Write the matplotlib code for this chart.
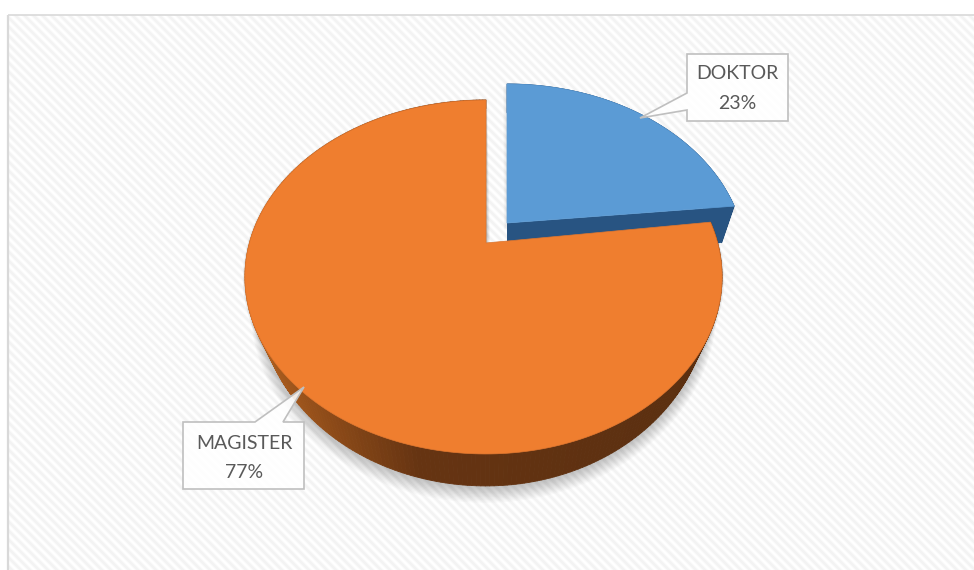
import matplotlib
matplotlib.use("Agg")
import matplotlib.pyplot as plt
from matplotlib.collections import PolyCollection
from matplotlib.colors import LinearSegmentedColormap
from matplotlib.patches import Polygon
import numpy as np

LABELS = ["DOKTOR", "MAGISTER"]
VALUES = [23, 77]
TOP_COLORS = ["#5b9bd5", "#ef7e2f"]

W, H = 974, 570
TEXT = "#595959"
BORDER = "#bfbfbf"

# tilted disc: pole and perspective of the top face, in pixels
CX, CY = 486, 243
FAR, NEAR = -123.8, 0.192
R_LEFT, R_RIGHT, R_SLICE = 236.6, 231.7, 234.5
# lower face of the extruded disc
SHRINK_X = 0.945
STRETCH_Y = 1.066
LIFT_Y = 2.0
EXPLODE = (21, -16)
SLICE_APEX_LIFT = -4
SLICE_EXTRA_DEPTH = 20

orange_side = LinearSegmentedColormap.from_list(
    "orange_side", [(0, "#b0601f"), (0.17, "#8c4a18"), (0.36, "#663412"), (1, "#5a2f10")])
blue_side = LinearSegmentedColormap.from_list(
    "blue_side", [(0, "#2a5a8c"), (1, "#26507c")])


def top_face(theta, r_right=R_RIGHT):
    # theta is clockwise from 12 o'clock
    u, v = np.sin(theta), np.cos(theta)
    d = 1 + NEAR * v
    r = np.where(u >= 0, r_right, R_LEFT)
    return CX + r * u / d, (CY + FAR * v) / d


def lower_face(x, y):
    return CX + SHRINK_X * (x - CX), STRETCH_Y * y + LIFT_Y


def outline(a, b, dx=0, dy=0, n=240, r_right=R_RIGHT):
    th = np.linspace(a, b, n)
    x, y = top_face(th, r_right)
    return x + dx, y + dy


def soft_shadow(ax, x, y, steps, spread, drop, alpha, z):
    mx, my = x.mean(), y.mean()
    for k in range(1, steps + 1):
        f = k / steps
        r = np.hypot(x - mx, y - my)
        gx = x + (x - mx) / r * spread * f
        gy = y + (y - my) / r * spread * f + drop * f
        ax.add_patch(Polygon(np.c_[gx, gy], closed=True, fc="black", ec="none",
                             alpha=alpha, zorder=z))


def draw_side(ax, a, b, cmap, dx, dy, z, r_right=R_RIGHT, extra=0, apex_lift=0):
    x, y = outline(a, b, n=300, r_right=r_right)
    lx, ly = lower_face(x, y)
    ly = ly + extra
    quads = [[(x[i] + dx, y[i] + dy), (x[i + 1] + dx, y[i + 1] + dy),
              (lx[i + 1] + dx, ly[i + 1] + dy), (lx[i] + dx, ly[i] + dy)]
             for i in range(len(x) - 1)]
    mids = np.clip((x[:-1] - 250) / 470, 0, 1)
    cols = cmap(mids)
    ax.add_collection(PolyCollection(quads, facecolors=cols, edgecolors=cols,
                                     linewidths=0.6, zorder=z))
    # back plate of the slice, down from the radial edge
    ax.add_patch(Polygon([(CX + dx, CY + dy + apex_lift), (x[-1] + dx, y[-1] + dy),
                          (lx[-1] + dx, ly[-1] + dy),
                          (CX + dx, STRETCH_Y * CY + LIFT_Y + dy + extra)],
                         closed=True, fc=cmap(0.6), ec="none", zorder=z))


def callout(ax, pts, lines, cx, cy):
    ax.add_patch(Polygon(pts, closed=True, fc=(1, 1, 1, 0.88), ec=BORDER, lw=1.2,
                         joinstyle="miter", zorder=8))
    ax.text(cx, cy, "\n".join(lines), ha="center", va="center", color=TEXT,
            fontsize=14, family=["Lato", "DejaVu Sans"], linespacing=1.92, zorder=9)


def main():
    fig = plt.figure(figsize=(W / 100, H / 100), dpi=100, facecolor="white")
    ax = fig.add_axes([0, 0, 1, 1])
    ax.axis("off")

    # diagonal stripes of the plot background
    gx, gy = np.meshgrid(np.arange(8, W) + 0.5, np.arange(15, H) + 0.5)
    stripes = 1 - 0.05 * (0.5 + 0.5 * np.cos(2 * np.pi * (gx - gy) / 9))
    ax.imshow(stripes, extent=(8, W, H, 15), cmap="gray", vmin=0, vmax=1,
              interpolation="bilinear", aspect="auto", zorder=0)
    ax.set_xlim(0, W)
    ax.set_ylim(H, 0)
    ax.plot([8, 8], [15, H], color="#d9d9d9", lw=1.6, solid_capstyle="butt", zorder=1)
    ax.plot([8, W], [15, 15], color="#d9d9d9", lw=1.2, solid_capstyle="butt", zorder=1)

    total = sum(VALUES)
    split = 2 * np.pi * VALUES[0] / total
    dx, dy = EXPLODE

    # shadows under the disc and the pulled-out slice
    ox, oy = outline(split, 2 * np.pi)
    ox = np.r_[CX, ox]
    oy = np.r_[CY, oy]
    lx, ly = lower_face(ox, oy)
    soft_shadow(ax, lx, ly, 12, 8, 9, 0.02, 2)
    soft_shadow(ax, ox, oy, 2, 2, 1, 0.05, 2)
    bx, by = outline(0, split, dx, dy, r_right=R_SLICE)
    bx = np.r_[CX + dx, bx]
    by = np.r_[CY + dy + SLICE_APEX_LIFT, by]
    soft_shadow(ax, bx, by, 4, 4, 4, 0.025, 2)

    draw_side(ax, 0, split, blue_side, dx, dy, 3, r_right=R_SLICE,
              extra=SLICE_EXTRA_DEPTH, apex_lift=SLICE_APEX_LIFT)
    ax.add_patch(Polygon(np.c_[bx, by], closed=True, fc=TOP_COLORS[0], ec=TOP_COLORS[0],
                         lw=0.5, zorder=4))

    draw_side(ax, split, 2 * np.pi, orange_side, 0, 0, 5)
    ax.add_patch(Polygon(np.c_[ox, oy], closed=True,
                         fc=TOP_COLORS[1], ec="#e0762e", lw=0.5, zorder=6))

    callout(ax, [(687, 54), (788, 54), (788, 121), (687, 121), (687, 110), (640, 118), (687, 93)],
            [LABELS[0], f"{VALUES[0] / total:.0%}"], 737.5, 88.5)
    callout(ax, [(183, 422), (255, 422), (304, 387), (283, 422), (304, 422), (304, 489), (183, 489)],
            [LABELS[1], f"{VALUES[1] / total:.0%}"], 244, 458)

    fig.savefig("out.png", dpi=100, facecolor="white")


if __name__ == "__main__":
    main()
